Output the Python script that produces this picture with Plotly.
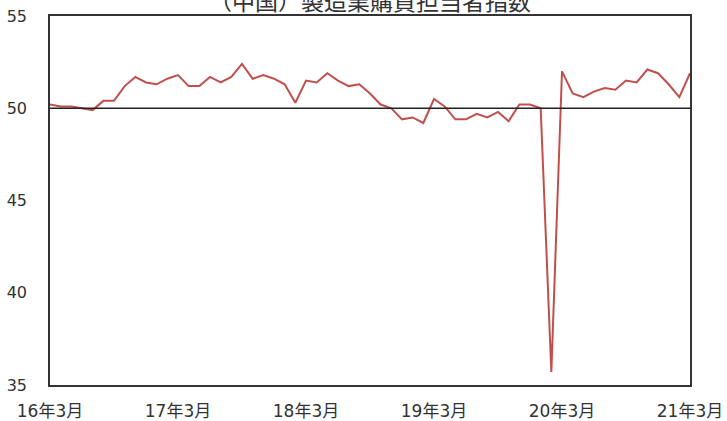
import plotly.graph_objects as go

# China manufacturing PMI, monthly, 2016-03 .. 2021-03
months = [f"{y}年{m}月" for y in range(16, 22) for m in range(1, 13)]
months = months[2:months.index("21年3月") + 1]
pmi = [
    50.2, 50.1, 50.1, 50.0, 49.9, 50.4, 50.4, 51.2, 51.7, 51.4,
    51.3, 51.6, 51.8, 51.2, 51.2, 51.7, 51.4, 51.7, 52.4, 51.6, 51.8, 51.6,
    51.3, 50.3, 51.5, 51.4, 51.9, 51.5, 51.2, 51.3, 50.8, 50.2, 50.0, 49.4,
    49.5, 49.2, 50.5, 50.1, 49.4, 49.4, 49.7, 49.5, 49.8, 49.3, 50.2, 50.2,
    50.0, 35.7, 52.0, 50.8, 50.6, 50.9, 51.1, 51.0, 51.5, 51.4, 52.1, 51.9,
    51.3, 50.6, 51.9,
]
tick_labels = ["16年3月", "17年3月", "18年3月", "19年3月", "20年3月", "21年3月"]
baseline = 50

x_idx = list(range(len(months)))
tick_idx = [months.index(t) for t in tick_labels]

font = "Verdana, DejaVu Sans, Noto Sans CJK JP"
text_color = "#333333"
fig = go.Figure()
fig.add_trace(go.Scatter(
    x=x_idx, y=pmi, mode="lines",
    line=dict(color="#C0504D", width=2),
    customdata=months, hovertemplate="%{customdata}: %{y}<extra></extra>",
))
fig.add_shape(type="line", xref="paper", x0=0, x1=1, yref="y", y0=baseline, y1=baseline,
              line=dict(color="#222222", width=1.5))

fig.update_layout(
    width=727, height=421,
    margin=dict(l=50, r=37, t=16, b=36, autoexpand=False),
    paper_bgcolor="white", plot_bgcolor="white",
    showlegend=False,
    font=dict(family=font, color=text_color),
    annotations=[dict(
        text="（中国）製造業購買担当者指数", xref="paper", yref="paper",
        x=0.5, y=1, yshift=16, xanchor="center", yanchor="middle",
        showarrow=False, font=dict(size=23, family="Noto Sans CJK JP", color=text_color),
    )],
)
fig.update_xaxes(
    range=[0, len(months) - 1], tickvals=tick_idx, ticktext=tick_labels,
    showgrid=False, zeroline=False, showline=True, mirror=True, automargin=False,
    linecolor="#333333", linewidth=1.5, ticks="", ticklabelstandoff=10,
    tickfont=dict(size=17, family=font, color=text_color),
)
fig.update_yaxes(
    range=[35, 55], tickvals=[35, 40, 45, 50, 55],
    showgrid=False, zeroline=False, showline=True, mirror=True, automargin=False,
    linecolor="#333333", linewidth=1.5, ticks="", ticklabelstandoff=18,
    tickfont=dict(size=16, family=font, color=text_color),
)

fig.write_html("out.html")
